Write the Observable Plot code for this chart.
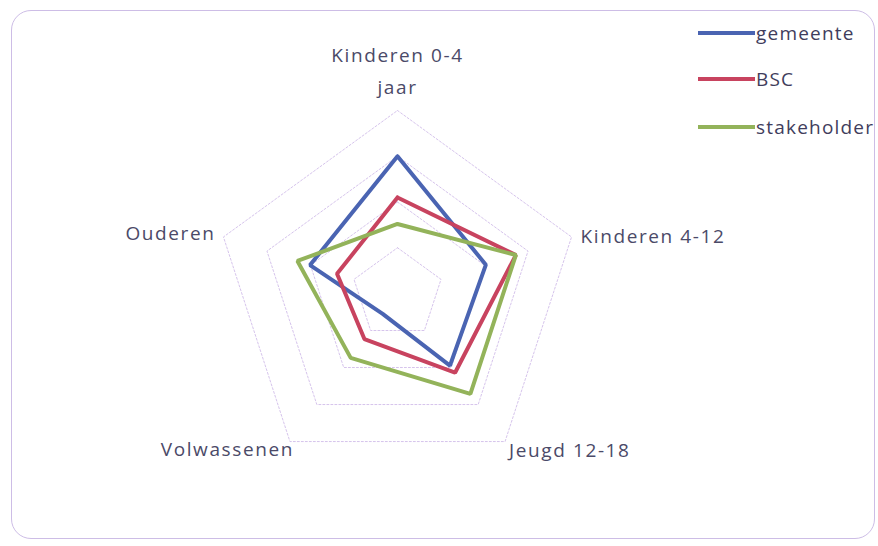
<!DOCTYPE html>
<html>
<head>
<meta charset="utf-8">
<script src="https://cdn.jsdelivr.net/npm/d3@7"></script>
<script src="https://cdn.jsdelivr.net/npm/@observablehq/plot@0.6"></script>
<style>
  html, body { margin: 0; padding: 0; background: #fff; }
  #wrap { position: relative; width: 878px; height: 546px; overflow: hidden; }
  #frame { position: absolute; left: 11px; top: 10px; width: 864px; height: 529px;
           border: 1.5px solid #cdbde6; border-radius: 20px; box-sizing: border-box; }
  #legend { position: absolute; left: 698px; top: 18px; font-family: "Open Sans", sans-serif;
            font-size: 19px; color: #3f3d5c; letter-spacing: 1.2px; }
  .item { position: absolute; left: 0; display: flex; align-items: center; white-space: nowrap; height: 30px; }
  .swatch { width: 57px; height: 4px; margin-right: 1px; }
  svg text { letter-spacing: 1.6px; }
</style>
</head>
<body>
<div id="wrap">
  <div id="frame"></div>
  <div id="chart"></div>
  <div id="legend"></div>
</div>
<script>
// ---- data ----
const axes = ["Kinderen 0-4\njaar", "Kinderen 4-12", "Jeugd 12-18", "Volwassenen", "Ouderen"];
const series = ["gemeente", "BSC", "stakeholder"];
const gemeente = [3.0, 2.03, 1.95, 0.55, 2.01];
const bsc = [2.1, 2.72, 2.14, 1.23, 1.39];
const stakeholder = [1.52, 2.72, 2.71, 1.74, 2.3];
const rings = [1, 2, 3, 4];
const colors = ["#4a64b2", "#c8435f", "#93b35a"];

// ---- build rows (polar -> cartesian in data units) ----
const n = axes.length;
const ang = i => (i % n) * 2 * Math.PI / n;
const values = [gemeente, bsc, stakeholder];
const rows = [];
series.forEach((s, k) => {
  for (let i = 0; i <= n; i++) {
    const v = values[k][i % n];
    rows.push({series: s, x: v * Math.sin(ang(i)), y: v * Math.cos(ang(i))});
  }
});
const ringRows = [];
rings.forEach(r => {
  for (let i = 0; i <= n; i++) ringRows.push({ring: r, x: r * Math.sin(ang(i)), y: r * Math.cos(ang(i))});
});
const maxR = d3.max(rings);
const labels = axes.map((a, i) => ({text: a, i, x: maxR * Math.sin(ang(i)), y: maxR * Math.cos(ang(i))}));

// scale setup: center at (397,293), radius 4 -> 183px
const W = 878, H = 546, cx = 397, cy = 293, pxPer = 183 / maxR;
const font = "'Open Sans', sans-serif";
const lab = (i, opts) => Plot.text(labels.filter(d => d.i === i), {
  x: "x", y: "y", text: "text", fill: "#4b4a68", fontSize: 19, ...opts
});

const chart = Plot.plot({
  width: W, height: H,
  margin: 0,
  style: {fontFamily: font, background: "transparent"},
  x: {domain: [-cx / pxPer, (W - cx) / pxPer], axis: null},
  y: {domain: [-(H - cy) / pxPer, cy / pxPer], axis: null},
  color: {domain: series, range: colors},
  marks: [
    Plot.line(ringRows, {x: "x", y: "y", z: "ring", stroke: "#d6c4ec", strokeWidth: 1, strokeDasharray: "2,2"}),
    Plot.line(rows, {x: "x", y: "y", z: "series", stroke: "series", strokeWidth: 4, strokeLinejoin: "miter"}),
    lab(0, {lineAnchor: "bottom", dy: -17, lineHeight: 1.65, textAnchor: "middle"}),
    lab(1, {textAnchor: "start", dx: 9, dy: 0}),
    lab(2, {textAnchor: "start", dx: 4, dy: 9}),
    lab(3, {textAnchor: "end", dx: 4, dy: 8}),
    lab(4, {textAnchor: "end", dx: -8, dy: -3})
  ]
});
document.getElementById("chart").appendChild(chart);

// legend
const legend = document.getElementById("legend");
const tops = [0, 46, 94];
series.forEach((s, k) => {
  const it = document.createElement("div");
  it.className = "item";
  it.style.top = tops[k] + "px";
  const sw = document.createElement("div");
  sw.className = "swatch";
  sw.style.background = colors[k];
  const tx = document.createElement("span");
  tx.textContent = s;
  it.appendChild(sw); it.appendChild(tx);
  legend.appendChild(it);
});
</script>
</body>
</html>
